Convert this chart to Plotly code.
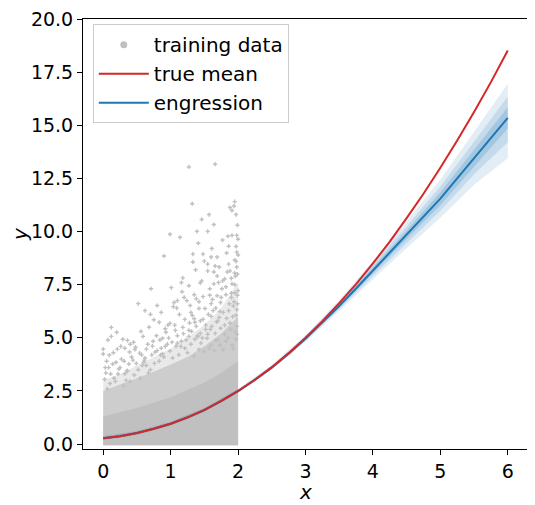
"""Engression vs true mean, extrapolation beyond the training range, using `plotly`."""
import plotly.graph_objects as go

# ---- data ----
# mean curves on a 0.25 grid
curve_x = [0.0, 0.25, 0.5, 0.75, 1.0, 1.25, 1.5, 1.75, 2.0, 2.25, 2.5, 2.75, 3.0,
           3.25, 3.5, 3.75, 4.0, 4.25, 4.5, 4.75, 5.0, 5.25, 5.5, 5.75, 6.0]
true_mean = [0.28, 0.37, 0.52, 0.72, 0.96, 1.26, 1.61, 2.03, 2.50, 3.03, 3.62, 4.28, 5.00,
             5.78, 6.63, 7.53, 8.50, 9.53, 10.63, 11.78, 13.00, 14.28, 15.63, 17.03, 18.52]
engression_mean = [0.28, 0.37, 0.52, 0.72, 0.96, 1.25, 1.60, 2.02, 2.49, 3.02, 3.60, 4.25, 4.96,
                   5.72, 6.50, 7.32, 8.17, 9.00, 9.85, 10.70, 11.55, 12.50, 13.45, 14.40, 15.35]

# engression quantile bands (coarser grid)
band_x = [0, 0.5, 1, 1.5, 2, 2.5, 3, 3.5, 4, 4.5, 5, 5.5, 6]
outer_hi = [0.38, 0.62, 1.06, 1.71, 2.60, 3.72, 5.12, 6.78, 8.60, 10.48, 12.45, 14.70, 16.95]
outer_lo = [0.18, 0.42, 0.86, 1.51, 2.40, 3.50, 4.82, 6.26, 7.76, 9.22, 10.65, 12.20, 13.45]
mid_hi = [0.35, 0.59, 1.03, 1.68, 2.57, 3.68, 5.07, 6.69, 8.45, 10.25, 12.12, 14.22, 16.35]
mid_lo = [0.21, 0.45, 0.89, 1.54, 2.43, 3.54, 4.87, 6.35, 7.91, 9.45, 10.98, 12.70, 14.20]
inner_hi = [0.32, 0.56, 1.00, 1.65, 2.54, 3.65, 5.02, 6.60, 8.32, 10.05, 11.85, 13.85, 15.85]
inner_lo = [0.24, 0.48, 0.92, 1.57, 2.46, 3.57, 4.92, 6.44, 8.04, 9.65, 11.25, 13.05, 14.85]

# training cloud: solid core, dense and thinning zones (upper edges), plus scattered points
cloud_x = [0.0, 0.25, 0.5, 0.75, 1.0, 1.25, 1.5, 1.75, 2.0]
cloud_floor = -0.05
core_top = [1.30, 1.50, 1.70, 1.95, 2.20, 2.55, 2.90, 3.35, 3.90]
dense_top = [2.50, 2.80, 3.10, 3.40, 3.75, 4.10, 4.60, 5.20, 6.00]
thin_top = [3.00, 3.30, 3.70, 4.10, 4.50, 5.00, 5.60, 6.40, 7.60]

train_points = [
    # sparse upper tail
    (1.27, 13.04), (1.66, 13.17), (1.32, 11.31), (1.95, 11.41), (1.88, 11.13), (1.91, 10.99),
    (1.57, 10.80), (1.46, 10.57), (1.64, 10.33), (0.99, 9.87), (1.39, 10.01), (1.55, 10.01),
    (1.14, 9.73), (1.85, 9.78), (1.91, 9.82), (1.98, 9.82), (2.00, 9.64), (1.41, 9.45),
    (1.86, 9.31), (1.98, 9.03), (1.33, 8.94), (1.48, 8.94), (1.83, 8.99), (0.90, 8.85),
    (1.60, 8.80), (1.69, 8.80), (1.95, 8.66), (1.33, 8.57), (1.50, 8.61), (1.66, 8.38),
    (1.55, 8.47), (1.98, 8.33), (1.72, 8.33), (1.86, 8.47), (1.55, 8.15), (1.64, 8.10),
    (1.95, 8.05), (1.88, 8.15), (1.18, 7.82), (1.69, 7.91), (1.80, 7.77), (1.46, 7.68),
    (1.44, 7.59), (1.64, 7.54), (1.77, 7.68), (1.91, 7.54), (0.71, 7.31), (1.01, 7.36),
    (1.27, 7.45), (1.58, 7.31), (1.76, 7.31), (2.00, 7.22), (1.17, 7.17), (1.35, 7.03),
    (1.48, 6.94), (1.69, 6.98), (1.82, 7.03), (1.95, 7.12), (1.99, 10.30), (1.97, 10.80),
    (1.94, 11.20), (2.00, 8.90), (1.97, 9.30), (1.61, 9.20), (1.77, 9.60), (1.37, 8.20),
    (1.16, 7.60), (1.97, 8.60), (1.84, 8.10), (1.71, 7.60), (1.96, 7.90), (1.95, 7.50),
    (1.90, 7.80), (1.99, 8.00),
    # middle band
    (0.52, 6.61), (0.80, 6.52), (1.05, 6.66), (1.24, 6.75), (1.38, 6.84), (1.60, 6.61),
    (1.74, 6.66), (1.94, 6.70), (0.62, 6.28), (0.70, 6.10), (1.10, 6.75), (1.04, 6.47),
    (1.29, 6.52), (1.42, 6.38), (1.51, 6.38), (1.63, 6.28), (1.73, 6.24), (1.86, 6.28),
    (1.98, 6.33), (0.83, 5.73), (0.92, 5.43), (0.99, 5.68), (1.13, 6.10), (1.21, 5.87),
    (1.32, 6.06), (1.36, 5.73), (1.48, 5.87), (1.60, 6.01), (1.72, 5.96), (1.83, 5.92),
    (1.97, 6.06), (0.12, 5.49), (0.20, 5.26), (0.12, 5.07), (0.29, 4.93), (0.36, 4.88),
    (0.45, 4.79), (0.59, 5.07), (0.74, 4.84), (0.88, 4.98), (0.93, 5.26), (1.07, 5.35),
    (1.18, 5.49), (1.27, 5.35), (1.38, 5.54), (1.44, 5.21), (1.52, 5.40), (1.61, 5.54),
    (1.66, 5.21), (1.74, 5.45), (1.80, 5.17), (1.89, 5.40), (1.98, 5.54), (1.98, 5.17),
    (1.27, 5.07), (1.55, 5.17), (1.09, 6.40), (1.20, 6.90), (1.30, 6.20), (1.42, 6.70),
    (1.56, 6.10), (1.62, 6.80), (1.67, 6.40), (1.75, 6.90), (1.78, 6.20), (1.82, 7.40),
    (1.87, 6.60), (1.90, 7.10), (1.93, 6.50), (1.99, 7.00), (1.58, 7.00), (0.75, 5.85),
    (0.86, 6.20), (0.56, 5.30), (0.68, 5.50), (0.79, 5.10), (0.96, 5.60), (1.06, 5.60),
    (1.28, 5.70), (1.35, 5.90), (1.44, 5.80), (1.52, 5.60), (1.70, 5.80), (1.88, 5.70),
    (1.80, 5.60), (1.92, 6.00), (1.99, 6.60),
    # lower band, above the dense mass
    (0.00, 4.47), (0.00, 4.24), (0.09, 4.19), (0.21, 4.47), (0.32, 4.51), (0.39, 4.33),
    (0.48, 4.56), (0.54, 4.28), (0.64, 4.47), (0.73, 4.61), (0.77, 4.33), (0.86, 4.51),
    (0.95, 4.70), (0.99, 4.38), (1.08, 4.61), (1.16, 4.84), (1.21, 4.51), (1.30, 4.70),
    (1.36, 4.93), (1.45, 4.75), (1.54, 4.98), (1.60, 4.65), (1.67, 4.88), (1.73, 4.65),
    (1.82, 4.84), (1.91, 4.65), (1.97, 4.93), (0.14, 3.77), (0.04, 3.35), (0.23, 3.54),
    (0.38, 3.77), (0.32, 3.31), (0.05, 3.90), (0.27, 4.00), (0.44, 3.95), (0.58, 3.70),
    (0.62, 4.05), (0.70, 3.50), (0.83, 3.90), (0.90, 4.10), (0.16, 3.10), (0.46, 3.25),
    (0.55, 3.10), (0.10, 2.85), (0.30, 2.75), (0.40, 2.95), (0.67, 3.35), (1.03, 4.05),
    (1.12, 4.20), (1.25, 4.30), (1.35, 4.15), (1.42, 4.45), (1.50, 4.35), (1.57, 4.50),
    (1.65, 4.40), (1.70, 4.90), (1.78, 4.45), (1.85, 5.00), (1.93, 4.50), (1.96, 5.30),
    (0.02, 3.05), (0.06, 2.60), (0.11, 3.30), (0.18, 2.95), (0.25, 3.60), (0.31, 3.90),
    (0.36, 3.45), (0.42, 4.10), (0.49, 3.80), (0.03, 3.60), (0.15, 4.30), (0.26, 4.60),
    (0.40, 4.70), (0.07, 4.90), (0.19, 3.85), (0.47, 4.45), (0.22, 3.30), (0.34, 3.00),
    (0.52, 3.50), (0.57, 4.20), (0.61, 3.95), (0.66, 4.70), (0.72, 4.20), (0.76, 3.80),
    (0.80, 4.40), (0.84, 4.90), (0.88, 4.25), (0.92, 4.60), (0.97, 5.00), (0.64, 3.70),
    (1.02, 4.80), (1.10, 5.10), (1.15, 4.60), (1.19, 5.20), (1.23, 4.90), (1.31, 5.30),
    (1.40, 5.10), (1.47, 5.00), (1.59, 5.40), (0.08, 3.60), (0.35, 3.45), (0.60, 3.85),
    (0.85, 4.20), (1.10, 4.75), (1.40, 5.05), (1.68, 5.75), (1.90, 6.90),
]
train_x = [p[0] for p in train_points]
train_y = [p[1] for p in train_points]

gray = "#c0c0c0"
red = "#d62728"
blue = "#1f77b4"

fig = go.Figure()

# training cloud zones, thinnest first
for top, alpha in [(thin_top, 0.35), (dense_top, 0.7), (core_top, 1.0)]:
    fig.add_trace(go.Scatter(
        x=cloud_x + cloud_x[::-1],
        y=top + [cloud_floor] * len(cloud_x),
        fill="toself", mode="none",
        fillcolor=f"rgba(192,192,192,{alpha})",
        showlegend=False, hoverinfo="skip"))

fig.add_trace(go.Scatter(x=train_x, y=train_y, mode="markers",
                         marker=dict(symbol="cross", size=3.5, color=gray),
                         showlegend=False, hoverinfo="skip"))
# legend handle for the cloud
fig.add_trace(go.Scatter(x=[None], y=[None], mode="markers", name="training data",
                         marker=dict(symbol="circle", size=7, color=gray), legendrank=1))

# engression bands
for hi, lo, alpha in [(outer_hi, outer_lo, 0.13), (mid_hi, mid_lo, 0.15), (inner_hi, inner_lo, 0.2)]:
    fig.add_trace(go.Scatter(
        x=band_x + band_x[::-1], y=hi + lo[::-1],
        fill="toself", mode="none", fillcolor=f"rgba(31,119,180,{alpha})",
        showlegend=False, hoverinfo="skip"))

fig.add_trace(go.Scatter(x=curve_x, y=engression_mean, mode="lines", name="engression",
                         line=dict(color=blue, width=2), legendrank=3))
fig.add_trace(go.Scatter(x=curve_x, y=true_mean, mode="lines", name="true mean",
                         line=dict(color=red, width=2), legendrank=2))

axis_common = dict(showline=True, linecolor="black", linewidth=1, mirror=True,
                   ticks="outside", ticklen=5, tickcolor="black", showgrid=False,
                   zeroline=False, automargin=False, ticklabeloverflow="allow",
                   tickfont=dict(size=19, color="black"))

# the page body adds an 8px margin, so the figure is 8px smaller and shifted up-left
fig.update_layout(
    width=527, height=497,
    margin=dict(l=75, r=7, t=11, b=56),
    plot_bgcolor="white", paper_bgcolor="white",
    font=dict(family="DejaVu Sans", color="black"),
    xaxis=dict(range=[-0.3, 6.3], tickvals=[0, 1, 2, 3, 4, 5, 6], **axis_common),
    yaxis=dict(range=[-0.23, 20.0], tickvals=[0, 2.5, 5, 7.5, 10, 12.5, 15, 17.5, 20],
               tickformat=".1f", **axis_common),
    legend=dict(x=0.022, y=0.988, xanchor="left", yanchor="top", itemwidth=50,
                font=dict(size=20), bgcolor="rgba(255,255,255,0.8)",
                bordercolor="#cccccc", borderwidth=1),
    annotations=[
        dict(text="<i>x</i>", xref="paper", yref="paper", x=0.5, y=0,
             yanchor="middle", yshift=-43, showarrow=False, font=dict(size=20)),
        dict(text="<i>y</i>", xref="paper", yref="paper", x=0, y=0.5,
             xanchor="center", xshift=-63, textangle=-90, showarrow=False,
             font=dict(size=20)),
    ],
)

fig.write_html("out.html")
